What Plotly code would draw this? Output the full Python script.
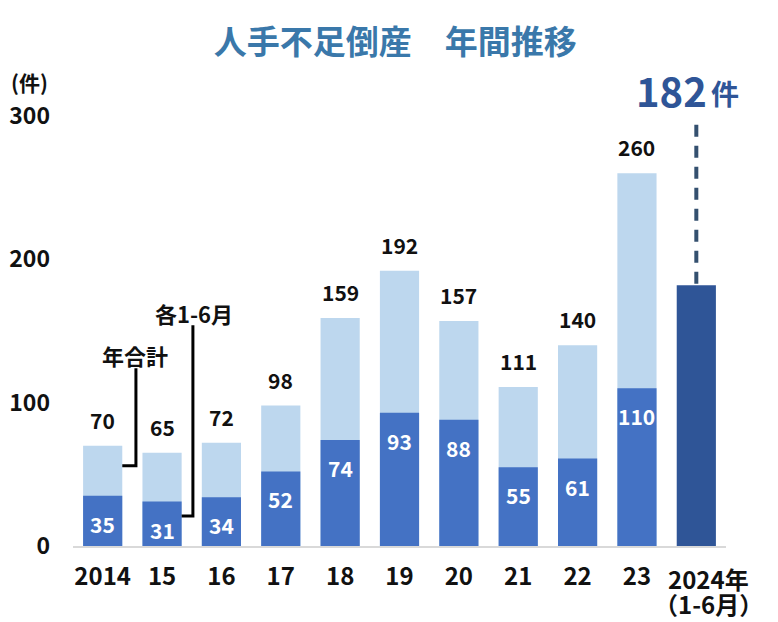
import plotly.graph_objects as go

# ---- data ----
years = ["2014", "15", "16", "17", "18", "19", "20", "21", "22", "23"]
last_year_label = ["2024年", "（1-6月）"]
annual_totals = [70, 65, 72, 98, 159, 192, 157, 111, 140, 260]
h1_values = [35, 31, 34, 52, 74, 93, 88, 55, 61, 110]
h1_2024 = 182
y_ticks = [0, 100, 200, 300]

xs = list(range(len(years)))
x_last = len(years)

FONT = "Noto Sans CJK JP"
LIGHT = "#BDD7EE"
MID = "#4472C4"
DARK = "#2F5597"
BAR_W = 0.66

fig = go.Figure()
fig.add_bar(x=xs, y=annual_totals, width=BAR_W, marker=dict(color=LIGHT, line=dict(width=0)),
            hoverinfo="skip")
fig.add_bar(x=xs, y=h1_values, width=BAR_W, marker=dict(color=MID, line=dict(width=0)),
            hoverinfo="skip")
fig.add_bar(x=[x_last], y=[h1_2024], width=BAR_W, marker=dict(color=DARK, line=dict(width=0)),
            hoverinfo="skip")

annotations = []
for x, v in zip(xs, annual_totals):
    annotations.append(dict(x=x, y=v, xref="x", yref="y", text=str(v), showarrow=False,
                            yshift=26, font=dict(family=FONT, size=21, color="#111111", weight="bold")))
for x, v in zip(xs, h1_values):
    annotations.append(dict(x=x, y=v, xref="x", yref="y", text=str(v), showarrow=False,
                            yshift=-28, font=dict(family=FONT, size=21, color="white", weight="bold")))

# last category label (two lines, slightly right of its bar, as in the reference)
for line_text, shift in zip(last_year_label, [-32, -57]):
    annotations.append(dict(x=x_last, y=0, xref="x", yref="paper", text=line_text, showarrow=False,
                            xanchor="center", yanchor="middle", xshift=12, yshift=shift,
                            font=dict(family=FONT, size=24, color="#111111", weight="bold")))

# 182件 callout (above the plot area -> paper y)
annotations.append(dict(
    x=x_last, y=1.06, xref="x", yref="paper", showarrow=False, xanchor="right", yanchor="middle",
    xshift=13, text=str(h1_2024), font=dict(family=FONT, size=40, color=DARK, weight="bold")))
annotations.append(dict(
    x=x_last, y=1.06, xref="x", yref="paper", showarrow=False, xanchor="left", yanchor="middle",
    xshift=13, yshift=-3, text="件", font=dict(family=FONT, size=28, color=DARK, weight="bold")))

# legend-like labels
annotations.append(dict(x=0.54, y=133, xref="x", yref="y", text="年合計", showarrow=False,
                        font=dict(family=FONT, size=22, color="#111111", weight="bold")))
annotations.append(dict(x=1.54, y=162.5, xref="x", yref="y", text="各1-6月", showarrow=False,
                        font=dict(family=FONT, size=22, color="#111111", weight="bold")))
# unit label
annotations.append(dict(x=-0.066, y=1.079, xref="paper", yref="paper", text="(件)", showarrow=False,
                        xanchor="center", yanchor="middle",
                        font=dict(family=FONT, size=21, color="#111111", weight="bold")))

shapes = [
    # dashed leader to 2024 bar
    dict(type="line", xref="x", yref="y", x0=x_last, x1=x_last, y0=h1_2024 + 1, y1=300,
         line=dict(color="#34506F", width=4, dash="12px,9px")),
    # 年合計 leader
    dict(type="path", xref="x", yref="y", path="M 0.56 124 L 0.56 56 L 0.33 56",
         line=dict(color="black", width=3)),
    # 各1-6月 leader
    dict(type="path", xref="x", yref="y", path="M 1.52 154 L 1.52 21 L 1.33 21",
         line=dict(color="black", width=3)),
]

fig.update_layout(
    width=778, height=622,
    margin=dict(l=73, r=52, t=116, b=76),
    paper_bgcolor="white", plot_bgcolor="white",
    barmode="overlay", showlegend=False,
    title=dict(text="人手不足倒産　年間推移", x=0.508, xref="container", y=0.932, yref="container",
               xanchor="center", yanchor="middle",
               font=dict(family=FONT, size=33, color="#3A78AA", weight="bold")),
    annotations=annotations, shapes=shapes,
    xaxis=dict(range=[-0.5, x_last + 0.5], tickvals=xs, ticktext=years,
               showgrid=False, zeroline=False, showline=True, linecolor="#D9D9D9", linewidth=2,
               ticks="", ticklabelstandoff=8, tickangle=0, automargin=False,
               tickfont=dict(family=FONT, size=24, color="#111111", weight="bold")),
    yaxis=dict(range=[0, 300], tickvals=y_ticks, showgrid=False, zeroline=False, showline=False,
               ticks="", ticklabelstandoff=22, automargin=False,
               tickfont=dict(family=FONT, size=23, color="#111111", weight="bold")),
)

fig.write_html("out.html", config={"displayModeBar": False},
               post_script="document.body.style.margin='0';document.body.style.overflow='hidden';")
